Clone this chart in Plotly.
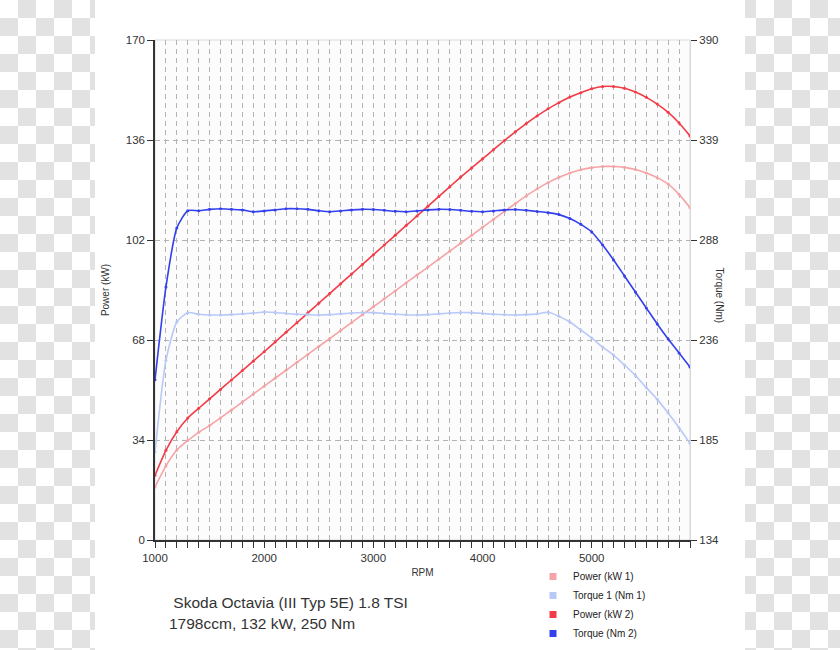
import plotly.graph_objects as go

rpm = list(range(1000, 6000, 100))

power_1 = [18, 25.2, 30.6, 33.8, 36.6, 38.9, 41.5, 44.2, 46.9, 49.6,
           52.3, 55.0, 57.7, 60.4, 63.1, 65.8, 68.5, 71.2, 73.9, 76.6,
           79.3, 82.0, 84.7, 87.4, 90.1, 92.8, 95.5, 98.2, 100.9, 103.6,
           106.3, 109.0, 111.7, 114.4, 117.0, 119.4, 121.5, 123.3, 124.8, 125.9,
           126.6, 127.0, 127.0, 126.7, 126.0, 124.8, 123.2, 121.0, 117.5, 113.0]

torque_1 = [179, 226, 245.6, 250.4, 249.6, 249.2, 249.2, 249.4, 249.8, 250.2,
            250.7, 250.5, 250.0, 249.6, 249.4, 249.2, 249.4, 249.8, 250.2, 250.5,
            250.4, 250.0, 249.6, 249.3, 249.2, 249.4, 249.8, 250.2, 250.5, 250.4,
            250.0, 249.6, 249.3, 249.2, 249.4, 249.8, 250.6, 248.5, 245.6, 241.5,
            237.4, 232.8, 228.7, 223.6, 218.2, 212.0, 206.0, 199.0, 191.5, 183.5]

power_2 = [22, 30.5, 36.8, 41.5, 44.8, 48.0, 51.2, 54.4, 57.6, 60.8,
           64.0, 67.3, 70.6, 73.9, 77.2, 80.5, 83.8, 87.1, 90.4, 93.7,
           97.0, 100.3, 103.6, 106.9, 110.2, 113.5, 116.8, 120.1, 123.4, 126.5,
           129.6, 132.7, 135.8, 138.8, 141.6, 144.2, 146.6, 148.7, 150.6, 152.1,
           153.4, 154.2, 154.2, 153.6, 152.3, 150.5, 148.2, 145.4, 141.8, 137.4]

torque_2 = [216, 263.5, 293.8, 302.6, 302.6, 303.3, 303.6, 303.3, 303.0, 302.1,
            302.5, 303.0, 303.6, 303.6, 303.3, 302.6, 302.1, 302.5, 303.0, 303.3,
            303.2, 302.8, 302.3, 302.1, 302.5, 303.0, 303.3, 303.2, 302.8, 302.3,
            302.1, 302.5, 303.0, 303.2, 302.8, 302.2, 301.6, 300.6, 298.6, 295.6,
            291.7, 285.0, 277.4, 269.2, 261.0, 252.8, 244.6, 236.9, 229.8, 222.6]

series_names = ["Power (kW 1)", "Torque 1 (Nm 1)", "Power (kW 2)", "Torque (Nm 2)"]
series_colors = ["#f4a4a6", "#b9c9f7", "#f23c48", "#3340ec"]

power_ticks = [0, 34, 68, 102, 136, 170]
torque_tickvals = [134, 185.2, 236.4, 287.6, 338.8, 390]
torque_ticktext = ["134", "185", "236", "288", "339", "390"]

title_lines = [" Skoda Octavia (III Typ 5E) 1.8 TSI", "1798ccm, 132 kW, 250 Nm"]

W, H = 840, 650
# plot area in pixels
PL, PR, PT, PB = 155, 690, 40, 540


def px(x):
    return x / W


def py(y):
    return (H - y) / H


fig = go.Figure()

data = [(power_1, "y"), (torque_1, "y2"), (power_2, "y"), (torque_2, "y2")]
for (vals, ax), name, col in zip(data, series_names, series_colors):
    fig.add_trace(go.Scatter(
        x=rpm, y=vals, yaxis=ax, mode="lines+markers", name=name,
        line=dict(color=col, width=1.6, shape="spline", smoothing=0.6),
        marker=dict(color=col, size=3), showlegend=False, hoverinfo="x+y+name"))

for name, col in zip(series_names, series_colors):
    fig.add_trace(go.Scatter(
        x=[None], y=[None], mode="markers", name=name,
        marker=dict(color=col, size=7, symbol="square"), showlegend=True))

# checkerboard (transparency placeholder) outside the central white panel,
# drawn as one path shape in paper coordinates
sq = 18
parts = []
for r in range(0, H // sq + 1):
    for c in range(0, W // sq + 1):
        if (r + c) % 2 == 0:
            continue
        x0, x1 = c * sq, (c + 1) * sq
        y0, y1 = r * sq, min((r + 1) * sq, H)
        for lo, hi in ((0, 95), (745, W)):
            a, b = max(x0, lo), min(x1, hi)
            if a < b:
                parts.append("M%.5f,%.5f L%.5f,%.5f L%.5f,%.5f L%.5f,%.5f Z" % (
                    px(a), py(y0), px(b), py(y0), px(b), py(y1), px(a), py(y1)))
shapes = [dict(type="path", xref="paper", yref="paper", path=" ".join(parts),
               fillcolor="#e2e2e2", line=dict(width=0), layer="above")]
# light frame of plot area
shapes.append(dict(type="rect", xref="paper", yref="paper",
                   x0=px(PL), x1=px(PR), y0=py(PB), y1=py(PT),
                   line=dict(color="#d9d9d9", width=1), layer="below"))

grid_col = "#b4b4b4"
font_fam = "Liberation Sans, Arial, sans-serif"

fig.update_layout(
    width=W, height=H, autosize=False,
    margin=dict(l=0, r=0, t=0, b=0, pad=0, autoexpand=False),
    paper_bgcolor="white", plot_bgcolor="#fcfcfc",
    font=dict(family=font_fam, size=11, color="#333333"),
    shapes=shapes,
    xaxis=dict(
        domain=[px(PL), px(PR)],
        range=[1000, 5900], tickvals=[1000, 2000, 3000, 4000, 5000],
        ticks="outside", ticklen=6, tickcolor="#333333",
        showline=True, linecolor="#333333", linewidth=1.5,
        showgrid=True, gridcolor=grid_col, griddash="5px,4px", gridwidth=1,
        zeroline=False,
        minor=dict(dtick=100, tick0=1000, ticks="outside", ticklen=6, tickcolor="#333333",
                   showgrid=True, gridcolor=grid_col, griddash="5px,4px", gridwidth=1),
        title=dict(text="RPM", font=dict(size=10, color="#333333"), standoff=6),
        tickfont=dict(size=11.5),
    ),
    yaxis=dict(
        domain=[py(PB), py(PT)],
        range=[0, 170], tickvals=power_ticks,
        ticks="outside", ticklen=6, tickcolor="#333333",
        showline=True, linecolor="#333333", linewidth=1.5,
        showgrid=True, gridcolor=grid_col, griddash="5px,4px", gridwidth=1,
        zeroline=False,
        title=dict(text="Power (kW)", font=dict(size=10, color="#333333"), standoff=14),
        tickfont=dict(size=11.5),
    ),
    yaxis2=dict(
        range=[134, 390], tickvals=torque_tickvals, ticktext=torque_ticktext,
        overlaying="y", side="right", anchor="x",
        ticks="outside", ticklen=6, tickcolor="#333333",
        showline=True, linecolor="#d9d9d9", linewidth=1,
        showgrid=False, zeroline=False,
        tickfont=dict(size=11.5),
    ),
    legend=dict(x=px(533), y=py(562), xanchor="left", yanchor="top",
                font=dict(size=10, color="#222222"), bgcolor="rgba(0,0,0,0)",
                tracegroupgap=0, itemwidth=30),
    annotations=[
        dict(text="Torque (Nm)", xref="paper", yref="paper", x=px(727), y=py(295),
             showarrow=False, textangle=90, font=dict(size=10, color="#333333")),
        dict(text=title_lines[0], xref="paper", yref="paper", x=px(167), y=py(602),
             xanchor="left", yanchor="middle", showarrow=False,
             font=dict(size=15.5, color="#333333")),
        dict(text=title_lines[1], xref="paper", yref="paper", x=px(167), y=py(623),
             xanchor="left", yanchor="middle", showarrow=False,
             font=dict(size=15.5, color="#333333")),
    ],
)

fig.write_html("out.html")
